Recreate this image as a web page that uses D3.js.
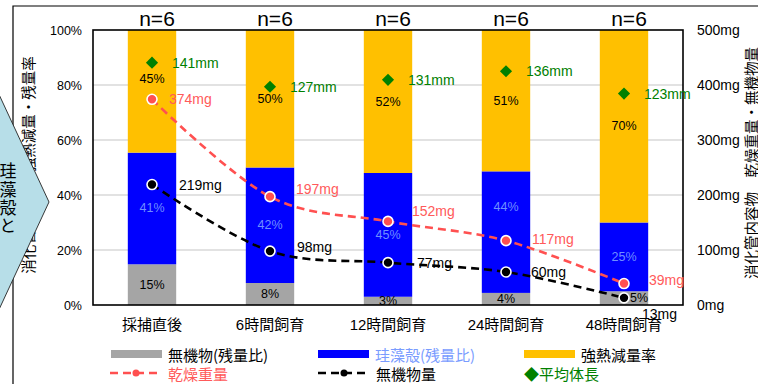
<!DOCTYPE html>
<html>
<head>
<meta charset="utf-8">
<script src="https://cdn.jsdelivr.net/npm/d3@7"></script>
<style>
  html, body { margin: 0; padding: 0; background: #fff; }
  svg { display: block; }
  text { font-family: "Liberation Sans", Arial, "Noto Sans CJK JP", sans-serif; }
  .jp, .jp text { font-family: "Noto Sans CJK JP", sans-serif; }
</style>
</head>
<body>
<svg id="chart" width="758" height="384"></svg>
<script>
// ---- data ----
const categories = ["採捕直後", "6時間飼育", "12時間飼育", "24時間飼育", "48時間飼育"];
const sampleN = [6, 6, 6, 6, 6];
// composition of gut contents (% of dry weight)
const inorganicPct = [14.8, 8, 3, 4.4, 5];     // 無機物(残量比)
const diatomPct    = [40.6, 42, 45, 44.2, 25]; // 珪藻殻(残量比)
const ignitionPct  = [44.6, 50, 52, 51.4, 70]; // 強熱減量率
// gut content weights (mg)
const dryWeight    = [374, 197, 152, 117, 39]; // 乾燥重量
const inorganicMg  = [219, 98, 77, 60, 13];    // 無機物量
// mean body length (mm)
const bodyLength   = [141, 127, 131, 136, 123];
const pctTicks = [0, 20, 40, 60, 80, 100];
const mgTicks  = [0, 100, 200, 300, 400, 500];
const calloutText = "珪藻殻と";

// ---- label placement tweaks (dx, dy in px) ----
const dryLabelOff = [[17, 0], [26, -8], [24, -10], [26, -2], [25, -4]];
const inoLabelOff = [[27, 0], [27, -4], [29, 0], [25, 0], [18, 16]];
const ignLabelShift = [-12, 0, 0, 0, 0];
const diaLabelShift = [0, 0, 0, -25, 0];
const grayLabelDx = [0, 0, 0, 0, 15];

// ---- layout ----
const svg = d3.select("#chart");
const plot = { left: 93, right: 683, top: 30, bottom: 305 };

const x = d3.scaleBand().domain(categories)
  .range([plot.left, plot.right]).paddingInner(0.59).paddingOuter(0.295);
const yPct = d3.scaleLinear().domain([0, 100]).range([plot.bottom, plot.top]);
const yMg  = d3.scaleLinear().domain([0, 500]).range([plot.bottom, plot.top]);
const yMm  = d3.scaleLinear().domain([0, 160]).range([plot.bottom, plot.top]);
const cx = c => x(c) + x.bandwidth() / 2;

const colors = {
  gray: "#a5a5a5", blue: "#0000ff", orange: "#ffc000",
  red: "#ff5050", redText: "#ff5a5a", blueText: "#6f8fff", legendBlue: "#7a9cff",
  green: "#008000"
};

// outer border of the figure
svg.append("path").attr("d", "M13,384 V6 H758")
  .attr("fill", "none").attr("stroke", "#000").attr("stroke-width", 1.2);

// gridlines
svg.append("g").selectAll("line").data(pctTicks.filter(d => d > 0 && d < 100)).join("line")
  .attr("x1", plot.left).attr("x2", plot.right)
  .attr("y1", d => yPct(d)).attr("y2", d => yPct(d))
  .attr("stroke", "#d9d9d9").attr("stroke-width", 1.5);

// stacked bars
const stackRows = categories.map((c, i) => ({
  cat: c, inorganic: inorganicPct[i], diatom: diatomPct[i], ignition: ignitionPct[i]
}));
const stack = d3.stack().keys(["inorganic", "diatom", "ignition"])(stackRows);
const fillOf = { inorganic: colors.gray, diatom: colors.blue, ignition: colors.orange };
svg.append("g").selectAll("g").data(stack).join("g")
  .attr("fill", s => fillOf[s.key])
  .selectAll("rect").data(s => s).join("rect")
  .attr("x", d => x(d.data.cat)).attr("width", x.bandwidth())
  .attr("y", d => yPct(d[1])).attr("height", d => yPct(d[0]) - yPct(d[1]));

// plot frame
svg.append("rect")
  .attr("x", plot.left).attr("y", plot.top)
  .attr("width", plot.right - plot.left).attr("height", plot.bottom - plot.top)
  .attr("fill", "none").attr("stroke", "#000").attr("stroke-width", 1.6);

// percentage labels inside the bars
const pctFmt = d => Math.round(d) + "%";
const segLabels = svg.append("g");
stack.forEach(s => {
  s.forEach((d, i) => {
    let dx = 0, dy = 0, col = "#000";
    if (s.key === "inorganic") dx = grayLabelDx[i];
    if (s.key === "diatom") { dy = diaLabelShift[i]; col = colors.blueText; }
    if (s.key === "ignition") dy = ignLabelShift[i];
    segLabels.append("text")
      .attr("x", cx(d.data.cat) + dx)
      .attr("y", (yPct(d[0]) + yPct(d[1])) / 2 + dy)
      .attr("font-size", 12.5).attr("text-anchor", "middle")
      .attr("dominant-baseline", "central")
      .attr("fill", col)
      .text(pctFmt(d[1] - d[0]));
  });
});

// weight lines
const line = yS => d3.line()
  .x((d, i) => cx(categories[i])).y(d => yS(d))
  .curve(d3.curveCatmullRom.alpha(0));

function drawSeries(values, color, textColor, offs) {
  svg.append("path").datum(values)
    .attr("d", line(yMg)).attr("fill", "none")
    .attr("stroke", color).attr("stroke-width", 2.6)
    .attr("stroke-dasharray", "8,5");
  svg.append("g").selectAll("circle").data(values).join("circle")
    .attr("cx", (d, i) => cx(categories[i])).attr("cy", d => yMg(d))
    .attr("r", 5).attr("fill", color).attr("stroke", "#fff").attr("stroke-width", 1.6);
  svg.append("g").selectAll("text").data(values).join("text")
    .attr("x", (d, i) => cx(categories[i]) + offs[i][0])
    .attr("y", (d, i) => yMg(d) + offs[i][1])
    .attr("font-size", 14).attr("fill", textColor)
    .attr("dominant-baseline", "central")
    .text(d => d + "mg");
}
drawSeries(dryWeight, colors.red, colors.redText, dryLabelOff);
drawSeries(inorganicMg, "#000", "#000", inoLabelOff);

// mean body length markers
svg.append("g").selectAll("path").data(bodyLength).join("path")
  .attr("d", d3.symbol().type(d3.symbolSquare).size(74))
  .attr("transform", (d, i) => `translate(${cx(categories[i])},${yMm(d)}) rotate(45)`)
  .attr("fill", colors.green);
svg.append("g").selectAll("text").data(bodyLength).join("text")
  .attr("x", (d, i) => cx(categories[i]) + 20).attr("y", d => yMm(d))
  .attr("font-size", 14).attr("fill", colors.green)
  .attr("dominant-baseline", "central")
  .text(d => d + "mm");

// n labels
svg.append("g").selectAll("text").data(sampleN).join("text")
  .attr("x", (d, i) => cx(categories[i]) + 5).attr("y", 26)
  .attr("font-size", 21).attr("text-anchor", "middle")
  .text(d => "n=" + d);

// axes
const leftAxis = svg.append("g").attr("transform", `translate(${plot.left},0)`)
  .call(d3.axisLeft(yPct).tickValues(pctTicks).tickFormat(d => d + "%").tickSize(0).tickPadding(11));
leftAxis.select(".domain").remove();
leftAxis.selectAll("text").attr("font-size", 12.5).attr("font-family", "Liberation Sans, Arial, sans-serif");

const rightAxis = svg.append("g").attr("transform", `translate(${plot.right},0)`)
  .call(d3.axisRight(yMg).tickValues(mgTicks).tickFormat(d => d + "mg").tickSize(0).tickPadding(14));
rightAxis.select(".domain").remove();
rightAxis.selectAll("text").attr("font-size", 14).attr("font-family", "Liberation Sans, Arial, sans-serif");

const bottomAxis = svg.append("g").attr("transform", `translate(0,${plot.bottom})`)
  .call(d3.axisBottom(x).tickSize(0).tickPadding(14));
bottomAxis.select(".domain").remove();
bottomAxis.selectAll("text").attr("font-size", 15).attr("fill", "#000")
  .attr("font-family", "Noto Sans CJK JP, sans-serif");

// axis titles
svg.append("text").attr("class", "jp").attr("font-size", 14.5)
  .attr("text-anchor", "middle").attr("dominant-baseline", "central")
  .attr("transform", "translate(27,165) rotate(-90)")
  .text("消化管内容物　強熱減量・残量率");
svg.append("text").attr("class", "jp").attr("font-size", 14.5)
  .attr("text-anchor", "middle").attr("dominant-baseline", "central")
  .attr("transform", "translate(750,163) rotate(-90)")
  .text("消化管内容物　乾燥重量・無機物量");

// chevron callout on the left edge, with vertical text
svg.append("path").attr("d", "M-4,88 L49,202 L-4,316 Z")
  .attr("fill", "#b7dee8").attr("stroke", "#222").attr("stroke-width", 0.9);
svg.append("text").attr("class", "jp")
  .attr("x", 8).attr("y", 199)
  .attr("writing-mode", "vertical-rl")
  .attr("text-anchor", "middle")
  .attr("font-size", 17).attr("letter-spacing", 1.3)
  .attr("fill", "#000")
  .text(calloutText);

// legend
const lg = svg.append("g");
const row1 = 354, row2 = 373;
const lgText = (tx, ty, col, label) => lg.append("text").attr("class", "jp")
  .attr("x", tx).attr("y", ty).attr("font-size", 15)
  .attr("dominant-baseline", "central").attr("fill", col).text(label);
[[111, colors.gray, "無機物(残量比)", "#000"],
 [318, colors.blue, "珪藻殻(残量比)", colors.legendBlue],
 [524, colors.orange, "強熱減量率", "#000"]].forEach(([lx, fill, label, tc]) => {
  lg.append("rect").attr("x", lx).attr("y", row1 - 4).attr("width", 51).attr("height", 8).attr("fill", fill);
  lgText(lx + 57, row1, tc, label);
});
[[110, colors.red, "乾燥重量", colors.redText],
 [318, "#000", "無機物量", "#000"]].forEach(([lx, col, label, tc]) => {
  lg.append("line").attr("x1", lx).attr("x2", lx + 52).attr("y1", row2).attr("y2", row2)
    .attr("stroke", col).attr("stroke-width", 2.6).attr("stroke-dasharray", "8,5");
  lg.append("circle").attr("cx", lx + 26).attr("cy", row2).attr("r", 3.5).attr("fill", col);
  lgText(lx + 58, row2, tc, label);
});
lgText(524, row2, colors.green, "◆平均体長");
</script>
</body>
</html>
